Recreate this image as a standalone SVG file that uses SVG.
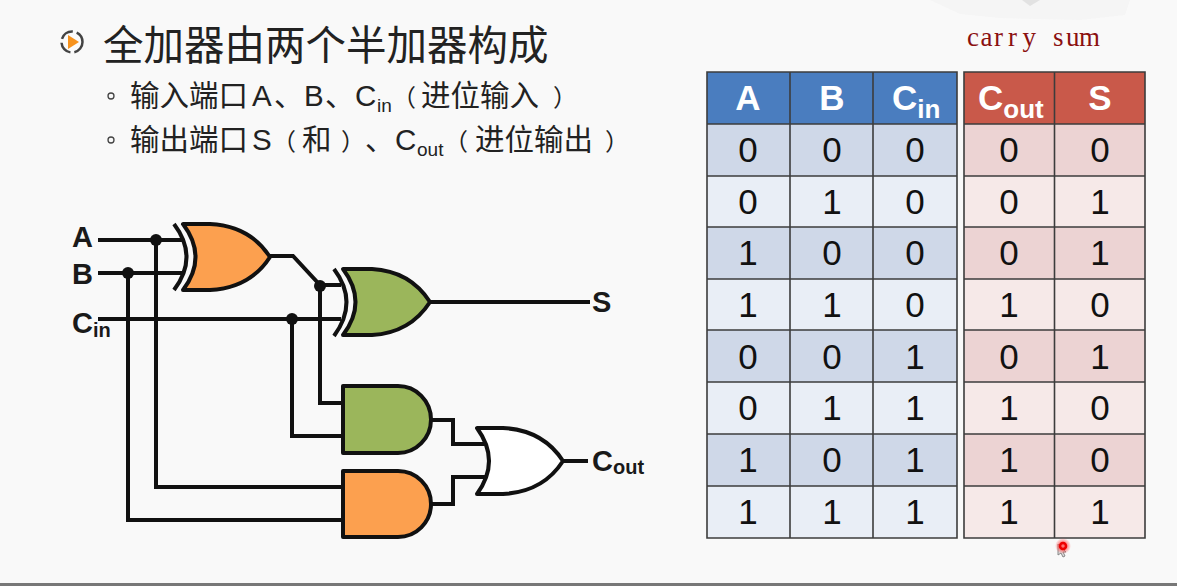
<svg xmlns="http://www.w3.org/2000/svg" width="1177" height="586" viewBox="0 0 1177 586">
<defs>
<radialGradient id="glow"><stop offset="0.4" stop-color="#ff5050" stop-opacity="0.8"/><stop offset="1" stop-color="#ff5050" stop-opacity="0"/></radialGradient>
</defs>
<style>
.w{fill:none;stroke:#111;stroke-width:4;stroke-linejoin:miter}
.g{stroke:#111;stroke-width:4;stroke-linejoin:round}
.d{fill:#111}
.lb{font-family:"Liberation Sans",Arial,sans-serif;font-weight:700;fill:#1a1a1a;font-size:29px}
.lbs{font-size:20px}
.cjk{font-family:"Liberation Sans","Noto Sans CJK SC",sans-serif;fill:#222}
.t{font-size:40.5px}
.s{font-size:29.500px}
.sub{font-size:19px}
.p{font-size:24px}
.bh{fill:#4a7dbf}.rh{fill:#c9594a}
.bd{fill:#cfd8e8}.bl{fill:#e9eef6}.rd{fill:#ecd3d3}.rl{fill:#f6e9e8}
.grid{fill:none;stroke:#3c3c3c;stroke-width:1.600}
.h{font-family:"Liberation Sans",Arial,sans-serif;font-weight:700;fill:#fff;font-size:35px;text-anchor:middle}
.hl{text-anchor:start}
.hs{font-size:26px}
.n{font-family:"Liberation Sans",Arial,sans-serif;fill:#111;font-size:35px;text-anchor:middle}
</style>
<rect width="1177" height="586" fill="#f9f9f9"/>
<rect y="583" width="1177" height="3" fill="#777"/>
<g id="watermark" fill="#f5f5f5"><path d="M930 0L1130 0L1125 15L1080 20L1000 18L960 14Z"/><path d="M1022 0L1040 0L1030 6Z" fill="#e2e2e2"/></g>

<g id="icon"><circle cx="72" cy="42" r="10.500" fill="#fbfbfb" stroke="#444" stroke-width="2.500" stroke-dasharray="14 4"/><path d="M68 35L79 42L68 49Z" fill="#f7931e"/></g>
<g id="heading"><text class="cjk t" x="103" y="60">全加器由两个半加器构成</text></g>
<g id="bullets">
<circle cx="111" cy="96" r="3" fill="none" stroke="#444" stroke-width="1.300"/>
<circle cx="111" cy="140" r="3" fill="none" stroke="#444" stroke-width="1.300"/>
<text class="cjk s" y="106"><tspan x="130">输入端口</tspan><tspan x="252">A</tspan><tspan x="274">、</tspan><tspan x="304">B</tspan><tspan x="325">、</tspan><tspan x="355">C</tspan><tspan class="sub" x="377" dy="6">in</tspan><tspan class="p" x="392" dy="-6">（</tspan><tspan x="421">进位输入</tspan><tspan class="p" x="553">）</tspan></text>
<text class="cjk s" y="150"><tspan x="130">输出端口</tspan><tspan x="252">S</tspan><tspan class="p" x="272">（</tspan><tspan x="302">和</tspan><tspan class="p" x="341">）</tspan><tspan x="365">、</tspan><tspan x="395">C</tspan><tspan class="sub" x="417" dy="6">out</tspan><tspan class="p" x="444" dy="-6">（</tspan><tspan x="475">进位输出</tspan><tspan class="p" x="605">）</tspan></text>
</g>
<g id="annotation"><text x="967 980.500 994 1008 1022.500 1053 1066 1079" y="46" font-family="'Liberation Serif',serif" font-size="27" fill="#8b1010">carrysum</text></g>

<g id="connectors">
<path class="w" d="M98 240H184"/>
<path class="w" d="M98 273H184"/>
<path class="w" d="M98 319H341"/>
<path class="w" d="M156 240V487H343"/>
<path class="w" d="M128 273V520H343"/>
<path class="w" d="M292 319V436H343"/>
<path class="w" d="M320 286V403H343"/>
<path class="w" d="M270 256H293L320 285H341"/>
<path class="w" d="M430 302H590"/>
<path class="w" d="M431 420H453V444H486"/>
<path class="w" d="M431 504H453V477H486"/>
<path class="w" d="M563 461H588"/>
<circle class="d" cx="156" cy="240" r="6"/>
<circle class="d" cx="128" cy="273" r="6"/>
<circle class="d" cx="292" cy="319" r="6"/>
<circle class="d" cx="320" cy="286" r="6"/>
</g>

<g id="xor1"><path class="w" d="M174 224Q199 257 174 290"/><path class="g" fill="#fca04f" d="M183 224H210Q250 226 270 257Q250 288 210 290H183Q208 257 183 224Z"/></g>
<g id="xor2"><path class="w" d="M334 269Q359 302 334 336"/><path class="g" fill="#9bb65b" d="M343 269H372Q410 271 430 302Q410 333 372 335H343Q368 302 343 269Z"/></g>
<g id="and1"><path class="g" fill="#9bb65b" d="M343 386H398A33 33.500 0 0 1 398 453H343Z"/></g>
<g id="and2"><path class="g" fill="#fca04f" d="M343 471H398A33 33 0 0 1 398 537H343Z"/></g>
<g id="or1"><path class="g" fill="#fff" d="M477 428H503Q543 430 563 461Q543 492 503 494H477Q501 461 477 428Z"/></g>

<g id="label-a"><text class="lb" x="72" y="247">A</text></g>
<g id="label-b"><text class="lb" x="72" y="284">B</text></g>
<g id="label-cin"><text class="lb" x="72" y="333">C<tspan class="lbs" dy="4">in</tspan></text></g>
<g id="label-s"><text class="lb" x="592" y="312">S</text></g>
<g id="label-cout"><text class="lb" x="592" y="471">C<tspan class="lbs" dy="3">out</tspan></text></g>

<g id="table-inputs">
<rect class="bh" x="707" y="72" width="250" height="52"/>
<rect class="bd" x="707" y="124" width="250" height="52"/>
<rect class="bl" x="707" y="176" width="250" height="51"/>
<rect class="bd" x="707" y="227" width="250" height="52"/>
<rect class="bl" x="707" y="279" width="250" height="51"/>
<rect class="bd" x="707" y="330" width="250" height="52"/>
<rect class="bl" x="707" y="382" width="250" height="52"/>
<rect class="bd" x="707" y="434" width="250" height="52"/>
<rect class="bl" x="707" y="486" width="250" height="52"/>
<path class="grid" d="M707 72H957V538H707ZM790 72V538M873 72V538M707 124H957M707 176H957M707 227H957M707 279H957M707 330H957M707 382H957M707 434H957M707 486H957"/>
<text class="h" x="748" y="110">A</text><text class="h" x="832" y="110">B</text><text class="h hl" x="892" y="110">C<tspan class="hs" dy="8">in</tspan></text>
<text class="n" x="748" y="162">0</text><text class="n" x="832" y="162">0</text><text class="n" x="915" y="162">0</text>
<text class="n" x="748" y="214">0</text><text class="n" x="832" y="214">1</text><text class="n" x="915" y="214">0</text>
<text class="n" x="748" y="265">1</text><text class="n" x="832" y="265">0</text><text class="n" x="915" y="265">0</text>
<text class="n" x="748" y="317">1</text><text class="n" x="832" y="317">1</text><text class="n" x="915" y="317">0</text>
<text class="n" x="748" y="369">0</text><text class="n" x="832" y="369">0</text><text class="n" x="915" y="369">1</text>
<text class="n" x="748" y="420">0</text><text class="n" x="832" y="420">1</text><text class="n" x="915" y="420">1</text>
<text class="n" x="748" y="472">1</text><text class="n" x="832" y="472">0</text><text class="n" x="915" y="472">1</text>
<text class="n" x="748" y="524">1</text><text class="n" x="832" y="524">1</text><text class="n" x="915" y="524">1</text>
</g>

<g id="table-outputs">
<rect class="rh" x="964" y="72" width="181" height="52"/>
<rect class="rd" x="964" y="124" width="181" height="52"/>
<rect class="rl" x="964" y="176" width="181" height="51"/>
<rect class="rd" x="964" y="227" width="181" height="52"/>
<rect class="rl" x="964" y="279" width="181" height="51"/>
<rect class="rd" x="964" y="330" width="181" height="52"/>
<rect class="rl" x="964" y="382" width="181" height="52"/>
<rect class="rd" x="964" y="434" width="181" height="52"/>
<rect class="rl" x="964" y="486" width="181" height="52"/>
<path class="grid" d="M964 72H1145V538H964ZM1054.500 72V538M964 124H1145M964 176H1145M964 227H1145M964 279H1145M964 330H1145M964 382H1145M964 434H1145M964 486H1145"/>
<text class="h hl" x="978" y="110">C<tspan class="hs" dy="8">out</tspan></text><text class="h" x="1100" y="110">S</text>
<text class="n" x="1009" y="162">0</text><text class="n" x="1100" y="162">0</text>
<text class="n" x="1009" y="214">0</text><text class="n" x="1100" y="214">1</text>
<text class="n" x="1009" y="265">0</text><text class="n" x="1100" y="265">1</text>
<text class="n" x="1009" y="317">1</text><text class="n" x="1100" y="317">0</text>
<text class="n" x="1009" y="369">0</text><text class="n" x="1100" y="369">1</text>
<text class="n" x="1009" y="420">1</text><text class="n" x="1100" y="420">0</text>
<text class="n" x="1009" y="472">1</text><text class="n" x="1100" y="472">0</text>
<text class="n" x="1009" y="524">1</text><text class="n" x="1100" y="524">1</text>
</g>

<g id="cursor">
<path d="M1058 544L1058 555L1061 553L1063 557L1065 556L1063 552L1066 552Z" fill="#ddd" stroke="#888"/>
<circle cx="1063" cy="546" r="8" fill="url(#glow)"/>
<circle cx="1063" cy="546" r="3" fill="none" stroke="#e00" stroke-width="2.500"/>
</g>
</svg>
